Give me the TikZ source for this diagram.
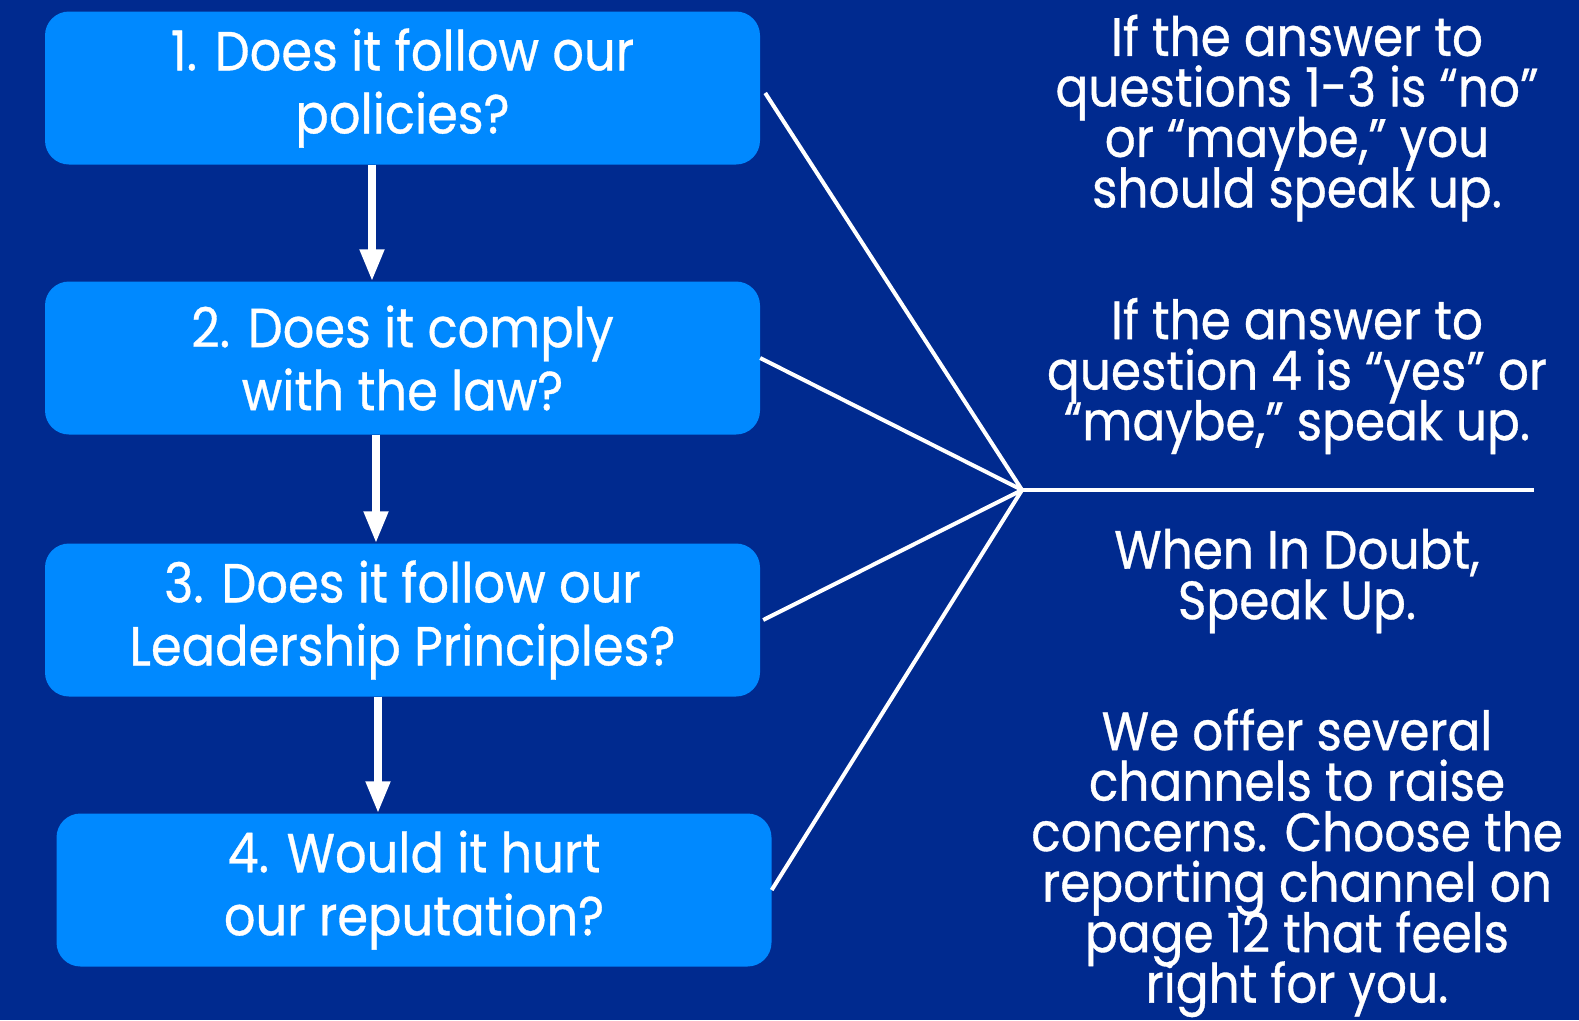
\documentclass[tikz,border=0pt]{standalone}
\usepackage{fontspec}
\setmainfont[FakeStretch=0.9,FakeBold=0.6]{Poppins}
\usetikzlibrary{arrows.meta}
\definecolor{bgblue}{RGB}{0,42,143}
\definecolor{boxblue}{RGB}{0,137,255}
\newcommand\mytightlines{\lineskiplimit=-200pt\relax}
\begin{document}
\begin{tikzpicture}[x=1pt,y=-1pt,
  qbox/.style={fill=boxblue, rounded corners=24pt, minimum width=715pt, minimum height=153pt, inner sep=0pt, text=white, align=center, font={\fontsize{55}{63}\selectfont\mytightlines}},
  flowarrow/.style={white, line width=7.5pt, -{Triangle[length=32pt,width=23pt]}},
  spoke/.style={white, line width=4pt},
  sidetext/.style={text=white, align=center, inner sep=0pt, font={\fontsize{54}{50.5}\selectfont\mytightlines}}]
\fill[bgblue] (0,0) rectangle (1579,1020);
\useasboundingbox (0,0) rectangle (1579,1020);
\node[qbox] (b1) at (402.5,88) {1. Does it follow our\\policies?};
\node[qbox] (b2) at (402.5,358) {2. Does it comply\\with the law?};
\node[qbox] (b3) at (402.5,620) {3. Does it follow our\\Leadership Principles?};
\node[qbox] (b4) at (414,890) {4. Would it hurt\\our reputation?};
\draw[flowarrow] ([xshift=-30.5pt]b1.south) -- ([xshift=-30.5pt]b2.north);
\draw[flowarrow] ([xshift=-26.5pt]b2.south) -- ([xshift=-26.5pt]b3.north);
\draw[flowarrow] ([xshift=-24.5pt]b3.south) -- ([xshift=-36pt]b4.north);
\coordinate (hub) at (1022,490);
\coordinate (lineend) at (1534,490);
\draw[spoke] ([shift={(5,5)}]b1.east) -- (hub);
\draw[spoke] (b2.east) -- (hub);
\draw[spoke] ([xshift=3pt]b3.east) -- (hub);
\draw[spoke] (b4.east) -- (hub);
\draw[spoke] (hub) -- (lineend);
\node[sidetext] (t1) at (1297,118) {If the answer to\\questions 1-3 is “no”\\or “maybe,” you\\should speak up.};
\node[sidetext] (t2) at (1297,376) {If the answer to\\question 4 is “yes” or\\“maybe,” speak up.};
\node[sidetext] (t3) at (1297,581) {When In Doubt,\\Speak Up.};
\node[sidetext] (t4) at (1297,863) {We offer several\\channels to raise\\concerns. Choose the\\reporting channel on\\page 12 that feels\\right for you.};
\end{tikzpicture}
\end{document}
